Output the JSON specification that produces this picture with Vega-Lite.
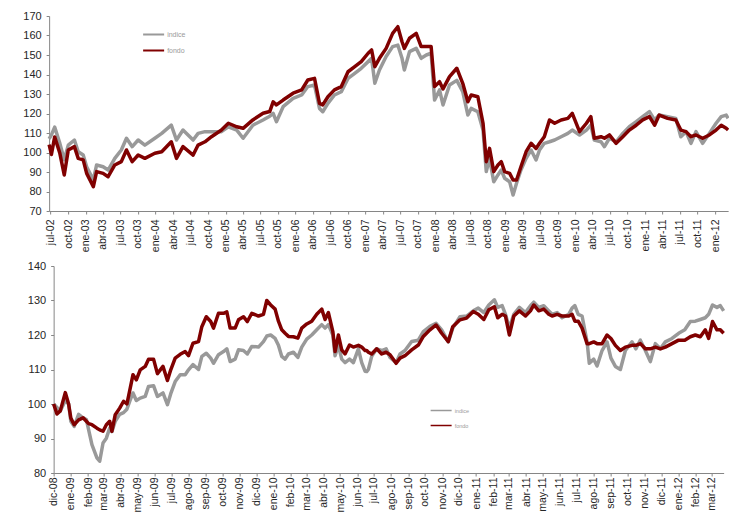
{
  "$schema": "https://vega.github.io/schema/vega-lite/v6.json",
  "background": "white",
  "padding": {"left": 17, "top": 10, "right": 4, "bottom": 0},
  "spacing": 8,
  "center": true,
  "config": {
    "view": {"stroke": null},
    "font": "Liberation Sans",
    "axis": {
      "grid": false,
      "domainColor": "#868686",
      "tickColor": "#868686",
      "tickSize": 3,
      "labelColor": "#262626",
      "title": null
    }
  },
  "resolve": {"scale": {"color": "independent"}, "legend": {"color": "independent"}},
  "datasets": {
    "top": [
      {"fecha": "2002-06-24", "indice": 107, "fondo": 104},
      {"fecha": "2002-07-06", "indice": 109, "fondo": 99},
      {"fecha": "2002-07-23", "indice": 113, "fondo": 108},
      {"fecha": "2002-08-19", "indice": 104.7, "fondo": 99.6},
      {"fecha": "2002-09-11", "indice": 96.3, "fondo": 88.5},
      {"fecha": "2002-10-02", "indice": 103.8, "fondo": 101.3},
      {"fecha": "2002-11-03", "indice": 106.4, "fondo": 103},
      {"fecha": "2002-11-23", "indice": 100.4, "fondo": 97},
      {"fecha": "2002-12-19", "indice": 98.7, "fondo": 96.2},
      {"fecha": "2003-01-06", "indice": 92.7, "fondo": 89.3},
      {"fecha": "2003-02-10", "indice": 85.9, "fondo": 82.5},
      {"fecha": "2003-02-27", "indice": 93.6, "fondo": 90.2},
      {"fecha": "2003-04-02", "indice": 92.7, "fondo": 89.3},
      {"fecha": "2003-04-28", "indice": 91, "fondo": 87.6},
      {"fecha": "2003-06-02", "indice": 97, "fondo": 93.6},
      {"fecha": "2003-07-06", "indice": 101.3, "fondo": 95.3},
      {"fecha": "2003-08-02", "indice": 107.3, "fondo": 101.3},
      {"fecha": "2003-09-01", "indice": 103, "fondo": 95.3},
      {"fecha": "2003-10-02", "indice": 106.4, "fondo": 98.7},
      {"fecha": "2003-11-06", "indice": 103.8, "fondo": 97},
      {"fecha": "2003-12-28", "indice": 107.3, "fondo": 99.6},
      {"fecha": "2004-02-02", "indice": 109.8, "fondo": 100.4},
      {"fecha": "2004-03-23", "indice": 114, "fondo": 105.5},
      {"fecha": "2004-04-19", "indice": 106.4, "fondo": 97},
      {"fecha": "2004-05-23", "indice": 111.5, "fondo": 103},
      {"fecha": "2004-07-15", "indice": 106.4, "fondo": 98.7},
      {"fecha": "2004-08-10", "indice": 109.8, "fondo": 103.8},
      {"fecha": "2004-09-15", "indice": 110.7, "fondo": 105.5},
      {"fecha": "2004-10-19", "indice": 110.7, "fondo": 108.1},
      {"fecha": "2004-12-10", "indice": 110.7, "fondo": 111.5},
      {"fecha": "2005-01-15", "indice": 113.2, "fondo": 115},
      {"fecha": "2005-02-28", "indice": 111.5, "fondo": 113.2},
      {"fecha": "2005-04-02", "indice": 107.3, "fondo": 112.4},
      {"fecha": "2005-05-23", "indice": 114, "fondo": 116.7},
      {"fecha": "2005-07-15", "indice": 116.7, "fondo": 120.1},
      {"fecha": "2005-08-19", "indice": 118.6, "fondo": 121},
      {"fecha": "2005-09-06", "indice": 120.1, "fondo": 126},
      {"fecha": "2005-09-23", "indice": 115.8, "fondo": 124.4},
      {"fecha": "2005-10-28", "indice": 123.5, "fondo": 126.9},
      {"fecha": "2005-12-19", "indice": 127.8, "fondo": 130.4},
      {"fecha": "2006-02-02", "indice": 129.5, "fondo": 132.1},
      {"fecha": "2006-03-06", "indice": 133.8, "fondo": 137.2},
      {"fecha": "2006-04-10", "indice": 134.6, "fondo": 138},
      {"fecha": "2006-05-06", "indice": 122.6, "fondo": 125.2},
      {"fecha": "2006-05-23", "indice": 120.9, "fondo": 124.4},
      {"fecha": "2006-06-19", "indice": 125.2, "fondo": 128.6},
      {"fecha": "2006-07-23", "indice": 129.5, "fondo": 132.1},
      {"fecha": "2006-08-28", "indice": 131.2, "fondo": 133.8},
      {"fecha": "2006-10-02", "indice": 138, "fondo": 141.4},
      {"fecha": "2006-11-06", "indice": 140.6, "fondo": 144},
      {"fecha": "2006-12-10", "indice": 143.2, "fondo": 146.6},
      {"fecha": "2007-01-15", "indice": 146.6, "fondo": 150.9},
      {"fecha": "2007-02-02", "indice": 148.3, "fondo": 152.6},
      {"fecha": "2007-02-19", "indice": 135.5, "fondo": 144},
      {"fecha": "2007-03-15", "indice": 142.3, "fondo": 148.3},
      {"fecha": "2007-04-19", "indice": 149.2, "fondo": 153.4},
      {"fecha": "2007-05-23", "indice": 154.3, "fondo": 161.1},
      {"fecha": "2007-06-19", "indice": 155.1, "fondo": 164.5},
      {"fecha": "2007-07-11", "indice": 148.3, "fondo": 156.8},
      {"fecha": "2007-07-23", "indice": 142.3, "fondo": 153.4},
      {"fecha": "2007-08-19", "indice": 151.7, "fondo": 158.6},
      {"fecha": "2007-09-23", "indice": 153.4, "fondo": 161.1},
      {"fecha": "2007-10-19", "indice": 148.3, "fondo": 154.3},
      {"fecha": "2007-11-15", "indice": 150, "fondo": 154.3},
      {"fecha": "2007-12-10", "indice": 150.9, "fondo": 154.3},
      {"fecha": "2007-12-28", "indice": 126.9, "fondo": 133.8},
      {"fecha": "2008-01-23", "indice": 132.1, "fondo": 136.3},
      {"fecha": "2008-02-10", "indice": 124.4, "fondo": 132.6},
      {"fecha": "2008-03-15", "indice": 134.6, "fondo": 138.9},
      {"fecha": "2008-04-22", "indice": 137, "fondo": 143.2},
      {"fecha": "2008-05-23", "indice": 131.2, "fondo": 135.5},
      {"fecha": "2008-06-19", "indice": 119.2, "fondo": 126},
      {"fecha": "2008-07-06", "indice": 122.6, "fondo": 129.5},
      {"fecha": "2008-08-10", "indice": 120.9, "fondo": 128.6},
      {"fecha": "2008-09-06", "indice": 111.5, "fondo": 115},
      {"fecha": "2008-09-23", "indice": 90.2, "fondo": 95.3},
      {"fecha": "2008-10-10", "indice": 97, "fondo": 102.1},
      {"fecha": "2008-11-01", "indice": 85, "fondo": 90.2},
      {"fecha": "2008-11-23", "indice": 88.5, "fondo": 93.6},
      {"fecha": "2008-12-10", "indice": 91, "fondo": 95.3},
      {"fecha": "2008-12-28", "indice": 86.8, "fondo": 90.2},
      {"fecha": "2009-01-23", "indice": 85, "fondo": 89.3},
      {"fecha": "2009-02-10", "indice": 78.2, "fondo": 85.9},
      {"fecha": "2009-02-28", "indice": 84.2, "fondo": 85.9},
      {"fecha": "2009-03-23", "indice": 91, "fondo": 92.7},
      {"fecha": "2009-04-19", "indice": 97, "fondo": 100.4},
      {"fecha": "2009-05-15", "indice": 101.3, "fondo": 104.7},
      {"fecha": "2009-06-10", "indice": 96.2, "fondo": 102.1},
      {"fecha": "2009-06-28", "indice": 101.3, "fondo": 104.7},
      {"fecha": "2009-07-23", "indice": 104.7, "fondo": 108.1},
      {"fecha": "2009-08-19", "indice": 105.5, "fondo": 116.7},
      {"fecha": "2009-09-15", "indice": 106.4, "fondo": 115},
      {"fecha": "2009-10-19", "indice": 108.1, "fondo": 116.7},
      {"fecha": "2009-11-23", "indice": 109.8, "fondo": 117.5},
      {"fecha": "2009-12-16", "indice": 111.5, "fondo": 120.1},
      {"fecha": "2010-01-23", "indice": 109, "fondo": 110.7},
      {"fecha": "2010-02-28", "indice": 111.5, "fondo": 115},
      {"fecha": "2010-03-23", "indice": 114, "fondo": 118.4},
      {"fecha": "2010-04-10", "indice": 106.4, "fondo": 107.3},
      {"fecha": "2010-05-15", "indice": 105.5, "fondo": 108.1},
      {"fecha": "2010-06-02", "indice": 103, "fondo": 107.3},
      {"fecha": "2010-06-28", "indice": 107.3, "fondo": 109},
      {"fecha": "2010-08-02", "indice": 105.5, "fondo": 104.7},
      {"fecha": "2010-09-06", "indice": 109.8, "fondo": 108.1},
      {"fecha": "2010-10-10", "indice": 113.2, "fondo": 111.5},
      {"fecha": "2010-11-15", "indice": 115.8, "fondo": 114},
      {"fecha": "2010-12-19", "indice": 118.4, "fondo": 116.7},
      {"fecha": "2011-01-23", "indice": 121, "fondo": 118.4},
      {"fecha": "2011-02-19", "indice": 116.7, "fondo": 114},
      {"fecha": "2011-03-15", "indice": 119.2, "fondo": 119.2},
      {"fecha": "2011-04-28", "indice": 118.4, "fondo": 117.5},
      {"fecha": "2011-06-10", "indice": 117.5, "fondo": 116.7},
      {"fecha": "2011-07-06", "indice": 108.1, "fondo": 111.5},
      {"fecha": "2011-08-02", "indice": 110.7, "fondo": 110.7},
      {"fecha": "2011-08-28", "indice": 104.7, "fondo": 108.1},
      {"fecha": "2011-09-23", "indice": 110.7, "fondo": 109},
      {"fecha": "2011-10-28", "indice": 104.7, "fondo": 107.3},
      {"fecha": "2011-12-02", "indice": 109.8, "fondo": 109},
      {"fecha": "2012-01-06", "indice": 115, "fondo": 111.5},
      {"fecha": "2012-02-02", "indice": 118.4, "fondo": 114},
      {"fecha": "2012-02-28", "indice": 119.2, "fondo": 112.4},
      {"fecha": "2012-03-09", "indice": 117.5, "fondo": 111.5}
    ],
    "bot": [
      {"fecha": "2008-12-01", "indice": 100, "fondo": 100},
      {"fecha": "2008-12-07", "indice": 99, "fondo": 97.1},
      {"fecha": "2008-12-13", "indice": 98, "fondo": 98},
      {"fecha": "2008-12-22", "indice": 101, "fondo": 103.3},
      {"fecha": "2008-12-28", "indice": 100, "fondo": 100},
      {"fecha": "2009-01-01", "indice": 95, "fondo": 95.9},
      {"fecha": "2009-01-07", "indice": 93.5, "fondo": 94},
      {"fecha": "2009-01-15", "indice": 97, "fondo": 95.4},
      {"fecha": "2009-01-23", "indice": 96, "fondo": 96},
      {"fecha": "2009-01-29", "indice": 95.5, "fondo": 95},
      {"fecha": "2009-02-02", "indice": 92.6, "fondo": 94.3},
      {"fecha": "2009-02-08", "indice": 88.2, "fondo": 94},
      {"fecha": "2009-02-17", "indice": 84.4, "fondo": 93},
      {"fecha": "2009-02-22", "indice": 83.4, "fondo": 92.5},
      {"fecha": "2009-02-28", "indice": 88.7, "fondo": 92.1},
      {"fecha": "2009-03-06", "indice": 90.1, "fondo": 94},
      {"fecha": "2009-03-12", "indice": 93, "fondo": 95},
      {"fecha": "2009-03-16", "indice": 92, "fondo": 92.1},
      {"fecha": "2009-03-22", "indice": 95, "fondo": 96.9},
      {"fecha": "2009-03-30", "indice": 97, "fondo": 98.8},
      {"fecha": "2009-04-06", "indice": 97.5, "fondo": 100.8},
      {"fecha": "2009-04-12", "indice": 98.5, "fondo": 100},
      {"fecha": "2009-04-18", "indice": 101.2, "fondo": 104.6},
      {"fecha": "2009-04-23", "indice": 103.2, "fondo": 108.5},
      {"fecha": "2009-04-29", "indice": 101, "fondo": 107},
      {"fecha": "2009-05-06", "indice": 101.7, "fondo": 109.9},
      {"fecha": "2009-05-15", "indice": 102.2, "fondo": 110.9},
      {"fecha": "2009-05-21", "indice": 105.1, "fondo": 113},
      {"fecha": "2009-05-30", "indice": 105.3, "fondo": 113},
      {"fecha": "2009-06-06", "indice": 102.2, "fondo": 108.8},
      {"fecha": "2009-06-16", "indice": 103.2, "fondo": 110.9},
      {"fecha": "2009-06-24", "indice": 99.8, "fondo": 106.8},
      {"fecha": "2009-06-30", "indice": 103, "fondo": 109.9},
      {"fecha": "2009-07-08", "indice": 106.5, "fondo": 113.3},
      {"fecha": "2009-07-17", "indice": 108.5, "fondo": 114.4},
      {"fecha": "2009-07-26", "indice": 108.5, "fondo": 115.2},
      {"fecha": "2009-08-01", "indice": 109.9, "fondo": 114},
      {"fecha": "2009-08-09", "indice": 111.4, "fondo": 117.6},
      {"fecha": "2009-08-19", "indice": 110, "fondo": 118.1},
      {"fecha": "2009-08-25", "indice": 113.8, "fondo": 122.4},
      {"fecha": "2009-09-02", "indice": 114.7, "fondo": 125.3},
      {"fecha": "2009-09-10", "indice": 113.3, "fondo": 123.9},
      {"fecha": "2009-09-15", "indice": 111.8, "fondo": 122},
      {"fecha": "2009-09-24", "indice": 114.3, "fondo": 126.3},
      {"fecha": "2009-10-03", "indice": 115.2, "fondo": 126.3},
      {"fecha": "2009-10-09", "indice": 116, "fondo": 126.7},
      {"fecha": "2009-10-15", "indice": 112.3, "fondo": 122},
      {"fecha": "2009-10-24", "indice": 113, "fondo": 122},
      {"fecha": "2009-10-30", "indice": 115.7, "fondo": 124.4},
      {"fecha": "2009-11-08", "indice": 115.5, "fondo": 125.3},
      {"fecha": "2009-11-15", "indice": 114.5, "fondo": 123.9},
      {"fecha": "2009-11-23", "indice": 116.7, "fondo": 126.3},
      {"fecha": "2009-12-05", "indice": 116.5, "fondo": 125.5},
      {"fecha": "2009-12-14", "indice": 118.1, "fondo": 126},
      {"fecha": "2009-12-20", "indice": 119.7, "fondo": 130},
      {"fecha": "2009-12-27", "indice": 120, "fondo": 128.7},
      {"fecha": "2010-01-04", "indice": 119, "fondo": 127.5},
      {"fecha": "2010-01-10", "indice": 117, "fondo": 124},
      {"fecha": "2010-01-16", "indice": 113.8, "fondo": 121.5},
      {"fecha": "2010-01-22", "indice": 113, "fondo": 120.5},
      {"fecha": "2010-01-28", "indice": 114.5, "fondo": 119.6},
      {"fecha": "2010-02-06", "indice": 115, "fondo": 119.5},
      {"fecha": "2010-02-14", "indice": 113.5, "fondo": 119.1},
      {"fecha": "2010-02-21", "indice": 116.5, "fondo": 122},
      {"fecha": "2010-03-02", "indice": 118.8, "fondo": 123.2},
      {"fecha": "2010-03-11", "indice": 120, "fondo": 124},
      {"fecha": "2010-03-20", "indice": 121.5, "fondo": 126},
      {"fecha": "2010-03-29", "indice": 123, "fondo": 127.5},
      {"fecha": "2010-04-04", "indice": 122, "fondo": 124.5},
      {"fecha": "2010-04-10", "indice": 123, "fondo": 126.5},
      {"fecha": "2010-04-18", "indice": 120, "fondo": 121},
      {"fecha": "2010-04-22", "indice": 114, "fondo": 115.2},
      {"fecha": "2010-04-28", "indice": 117, "fondo": 120},
      {"fecha": "2010-05-04", "indice": 113, "fondo": 115.7},
      {"fecha": "2010-05-10", "indice": 112, "fondo": 114.5},
      {"fecha": "2010-05-18", "indice": 113, "fondo": 117.1},
      {"fecha": "2010-05-25", "indice": 112, "fondo": 116.5},
      {"fecha": "2010-06-03", "indice": 116, "fondo": 117},
      {"fecha": "2010-06-09", "indice": 112, "fondo": 116.5},
      {"fecha": "2010-06-15", "indice": 109.5, "fondo": 115.5},
      {"fecha": "2010-06-18", "indice": 109.4, "fondo": 115.5},
      {"fecha": "2010-06-21", "indice": 110, "fondo": 115},
      {"fecha": "2010-06-27", "indice": 113.8, "fondo": 114.5},
      {"fecha": "2010-07-06", "indice": 116, "fondo": 116},
      {"fecha": "2010-07-15", "indice": 115.5, "fondo": 114.5},
      {"fecha": "2010-07-23", "indice": 116, "fondo": 115},
      {"fecha": "2010-07-30", "indice": 113.5, "fondo": 114.3},
      {"fecha": "2010-08-10", "indice": 112, "fondo": 111.8},
      {"fecha": "2010-08-17", "indice": 114.5, "fondo": 113.3},
      {"fecha": "2010-08-26", "indice": 115.5, "fondo": 114},
      {"fecha": "2010-09-07", "indice": 118.1, "fondo": 115.7},
      {"fecha": "2010-09-19", "indice": 118.5, "fondo": 117.1},
      {"fecha": "2010-09-28", "indice": 121, "fondo": 119.6},
      {"fecha": "2010-10-10", "indice": 122.5, "fondo": 121.5},
      {"fecha": "2010-10-21", "indice": 123.4, "fondo": 122.9},
      {"fecha": "2010-10-31", "indice": 121.5, "fondo": 120.5},
      {"fecha": "2010-11-12", "indice": 118, "fondo": 118.1},
      {"fecha": "2010-11-20", "indice": 122, "fondo": 122.4},
      {"fecha": "2010-12-03", "indice": 125.3, "fondo": 124.4},
      {"fecha": "2010-12-15", "indice": 125.5, "fondo": 124.9},
      {"fecha": "2010-12-27", "indice": 127, "fondo": 126.8},
      {"fecha": "2011-01-05", "indice": 127.8, "fondo": 126},
      {"fecha": "2011-01-15", "indice": 126.5, "fondo": 124.5},
      {"fecha": "2011-01-24", "indice": 128.7, "fondo": 127.3},
      {"fecha": "2011-02-03", "indice": 130.2, "fondo": 128.2},
      {"fecha": "2011-02-09", "indice": 128, "fondo": 125},
      {"fecha": "2011-02-17", "indice": 128.5, "fondo": 126},
      {"fecha": "2011-02-23", "indice": 126, "fondo": 125.5},
      {"fecha": "2011-03-02", "indice": 122, "fondo": 120},
      {"fecha": "2011-03-10", "indice": 126, "fondo": 125.5},
      {"fecha": "2011-03-20", "indice": 128, "fondo": 127},
      {"fecha": "2011-03-31", "indice": 126.5, "fondo": 125.5},
      {"fecha": "2011-04-09", "indice": 128.5, "fondo": 127},
      {"fecha": "2011-04-15", "indice": 129.5, "fondo": 128.7},
      {"fecha": "2011-04-24", "indice": 128, "fondo": 127},
      {"fecha": "2011-05-03", "indice": 128.5, "fondo": 127.5},
      {"fecha": "2011-05-12", "indice": 127, "fondo": 126},
      {"fecha": "2011-05-18", "indice": 126, "fondo": 125.5},
      {"fecha": "2011-05-27", "indice": 126.5, "fondo": 126},
      {"fecha": "2011-06-05", "indice": 125, "fondo": 125.5},
      {"fecha": "2011-06-17", "indice": 126, "fondo": 125.5},
      {"fecha": "2011-06-23", "indice": 127.8, "fondo": 126},
      {"fecha": "2011-06-28", "indice": 128.5, "fondo": 124},
      {"fecha": "2011-07-04", "indice": 126, "fondo": 124},
      {"fecha": "2011-07-11", "indice": 125.5, "fondo": 122},
      {"fecha": "2011-07-20", "indice": 118, "fondo": 117.5},
      {"fecha": "2011-07-24", "indice": 111.8, "fondo": 117.5},
      {"fecha": "2011-08-01", "indice": 113, "fondo": 118},
      {"fecha": "2011-08-07", "indice": 111, "fondo": 117.5},
      {"fecha": "2011-08-16", "indice": 115.5, "fondo": 117.5},
      {"fecha": "2011-08-25", "indice": 118, "fondo": 120},
      {"fecha": "2011-09-01", "indice": 113.3, "fondo": 119},
      {"fecha": "2011-09-09", "indice": 110.9, "fondo": 117},
      {"fecha": "2011-09-18", "indice": 110, "fondo": 115.5},
      {"fecha": "2011-09-27", "indice": 115.5, "fondo": 116.5},
      {"fecha": "2011-10-09", "indice": 118, "fondo": 117},
      {"fecha": "2011-10-16", "indice": 116, "fondo": 117},
      {"fecha": "2011-10-24", "indice": 118.5, "fondo": 117.5},
      {"fecha": "2011-11-02", "indice": 115.5, "fondo": 116},
      {"fecha": "2011-11-11", "indice": 112.3, "fondo": 116},
      {"fecha": "2011-11-20", "indice": 117.5, "fondo": 116.5},
      {"fecha": "2011-11-29", "indice": 116, "fondo": 116},
      {"fecha": "2011-12-08", "indice": 118, "fondo": 116.5},
      {"fecha": "2011-12-20", "indice": 119, "fondo": 117.5},
      {"fecha": "2012-01-01", "indice": 120.5, "fondo": 118.5},
      {"fecha": "2012-01-12", "indice": 121.5, "fondo": 118.5},
      {"fecha": "2012-01-22", "indice": 123.9, "fondo": 119.5},
      {"fecha": "2012-01-31", "indice": 124, "fondo": 120},
      {"fecha": "2012-02-09", "indice": 124.5, "fondo": 119.5},
      {"fecha": "2012-02-18", "indice": 125, "fondo": 121.5},
      {"fecha": "2012-02-24", "indice": 126, "fondo": 119},
      {"fecha": "2012-03-02", "indice": 128.7, "fondo": 123.9},
      {"fecha": "2012-03-10", "indice": 128, "fondo": 121.5},
      {"fecha": "2012-03-16", "indice": 128.5, "fondo": 121.5},
      {"fecha": "2012-03-22", "indice": 127, "fondo": 120.5}
    ]
  },
  "vconcat": [
    {
      "width": 679,
      "height": 195,
      "data": {"name": "top"},
      "transform": [{"fold": ["indice", "fondo"], "as": ["serie", "valor"]}],
      "encoding": {
        "x": {
          "field": "fecha",
          "type": "temporal",
          "scale": {"type": "utc", "nice": false},
          "axis": {
            "tickCount": {"interval": "month", "step": 3},
            "labelAngle": -90,
            "labelFontSize": 10.5,
            "labelPadding": 5,
            "labelExpr": "['ene','feb','mar','abr','may','jun','jul','ago','sep','oct','nov','dic'][utcmonth(datum.value)] + '-' + utcFormat(datum.value, '%y')",
            "labelOverlap": false,
            "labelFlush": false
          }
        },
        "y": {
          "field": "valor",
          "type": "quantitative",
          "scale": {"domain": [70, 170], "nice": false, "zero": false},
          "axis": {"values": [70, 80, 90, 100, 110, 120, 130, 140, 150, 160, 170], "labelFontSize": 11, "labelPadding": 5, "minExtent": 27, "maxExtent": 27}
        },
        "color": {
          "field": "serie",
          "type": "nominal",
          "scale": {"domain": ["indice", "fondo"], "range": ["#999999", "#800000"]},
          "legend": {
            "orient": "none",
            "legendX": 93,
            "legendY": 7,
            "title": null,
            "symbolType": "stroke",
            "symbolSize": 441,
            "symbolStrokeWidth": 2,
            "labelFontSize": 7,
            "labelColor": "#9a9a9a",
            "labelOffset": 2,
            "rowPadding": 0,
            "padding": 0
          }
        }
      },
      "layer": [
        {"transform": [{"filter": "datum.serie == 'indice'"}], "mark": {"type": "line", "strokeWidth": 3.5, "strokeJoin": "round"}},
        {"transform": [{"filter": "datum.serie == 'fondo'"}], "mark": {"type": "line", "strokeWidth": 3.5, "strokeJoin": "round"}}
      ]
    },
    {
      "width": 670,
      "height": 207,
      "data": {"name": "bot"},
      "transform": [{"fold": ["indice", "fondo"], "as": ["serie", "valor"]}],
      "encoding": {
        "x": {
          "field": "fecha",
          "type": "temporal",
          "scale": {"type": "utc", "nice": false},
          "axis": {
            "tickCount": {"interval": "month", "step": 1},
            "labelAngle": -90,
            "labelFontSize": 10.5,
            "labelPadding": 1,
            "labelExpr": "['ene','feb','mar','abr','may','jun','jul','ago','sep','oct','nov','dic'][utcmonth(datum.value)] + '-' + utcFormat(datum.value, '%y')",
            "labelOverlap": false,
            "labelFlush": false
          }
        },
        "y": {
          "field": "valor",
          "type": "quantitative",
          "scale": {"domain": [80, 140], "nice": false, "zero": false},
          "axis": {"values": [80, 90, 100, 110, 120, 130, 140], "labelFontSize": 11, "labelPadding": 5, "minExtent": 36, "maxExtent": 36}
        },
        "color": {
          "field": "serie",
          "type": "nominal",
          "scale": {"domain": ["indice", "fondo"], "range": ["#999999", "#800000"]},
          "legend": {
            "orient": "none",
            "legendX": 376,
            "legendY": 133,
            "title": null,
            "symbolType": "stroke",
            "symbolSize": 441,
            "symbolStrokeWidth": 1.5,
            "labelFontSize": 5.5,
            "labelColor": "#9a9a9a",
            "labelOffset": 2,
            "rowPadding": 0,
            "padding": 0
          }
        }
      },
      "layer": [
        {"transform": [{"filter": "datum.serie == 'indice'"}], "mark": {"type": "line", "strokeWidth": 3.5, "strokeJoin": "round"}},
        {"transform": [{"filter": "datum.serie == 'fondo'"}], "mark": {"type": "line", "strokeWidth": 3.5, "strokeJoin": "round"}}
      ]
    }
  ]
}
